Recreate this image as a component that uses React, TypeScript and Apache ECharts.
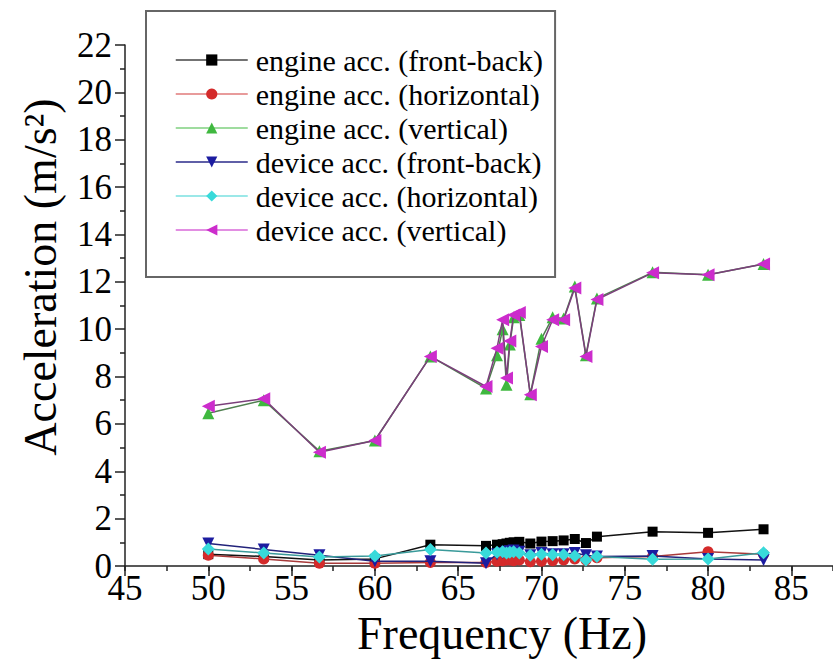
import React, { useEffect, useRef } from 'react';
import * as echarts from 'echarts';

// Frequency sweep (Hz)
const frequency = [50, 53.33, 56.67, 60, 63.33, 66.67, 67.33, 67.67, 67.9, 68.1, 68.33, 68.67, 69.33, 70, 70.67, 71.33, 72, 72.67, 73.33, 76.67, 80, 83.33];

// Accelerations (m/s^2)
const engineFrontBack = [0.5, 0.4, 0.25, 0.3, 0.9, 0.85, 0.9, 0.92, 0.95, 0.98, 1.0, 1.02, 0.95, 1.03, 1.05, 1.08, 1.14, 0.97, 1.24, 1.45, 1.4, 1.55];
const engineHorizontal = [0.45, 0.3, 0.12, 0.12, 0.15, 0.15, 0.2, 0.22, 0.25, 0.25, 0.22, 0.25, 0.18, 0.2, 0.22, 0.25, 0.3, 0.25, 0.35, 0.4, 0.6, 0.5];
const engineVertical = [6.45, 7.0, 4.85, 5.3, 8.85, 7.5, 8.9, 10.0, 7.65, 9.35, 10.5, 10.6, 7.25, 9.6, 10.5, 10.45, 11.8, 8.9, 11.3, 12.4, 12.3, 12.75];
const deviceFrontBack = [0.95, 0.7, 0.45, 0.2, 0.2, 0.12, 0.5, 0.55, 0.6, 0.62, 0.65, 0.6, 0.45, 0.55, 0.5, 0.5, 0.55, 0.45, 0.4, 0.42, 0.3, 0.25];
const deviceHorizontal = [0.72, 0.55, 0.38, 0.42, 0.7, 0.55, 0.58, 0.6, 0.55, 0.58, 0.6, 0.55, 0.45, 0.5, 0.48, 0.48, 0.42, 0.25, 0.4, 0.28, 0.3, 0.56];
const deviceVertical = [6.75, 7.06, 4.8, 5.3, 8.85, 7.58, 9.2, 10.4, 7.94, 9.5, 10.6, 10.7, 7.23, 9.27, 10.4, 10.4, 11.74, 8.85, 11.25, 12.38, 12.3, 12.75];

const seriesNames = [
  'engine acc. (front-back)',
  'engine acc. (horizontal)',
  'engine acc. (vertical)',
  'device acc. (front-back)',
  'device acc. (horizontal)',
  'device acc. (vertical)',
];

const xTitle = 'Frequency (Hz)';
const yTitle = 'Acceleration (m/s²)';

export default function App() {
  const ref = useRef<HTMLDivElement>(null);
  useEffect(() => {
    if (!ref.current) return;
    const chart = echarts.init(ref.current, null, { renderer: 'svg' });
    const font = 'Times New Roman';
    const valuesList = [engineFrontBack, engineHorizontal, engineVertical, deviceFrontBack, deviceHorizontal, deviceVertical];
    const symbols = ['rect', 'circle', 'triangle', 'triangle', 'diamond', 'triangle'];
    const rotates = [0, 0, 0, 180, 0, 90];
    const sizes = [10, 11, 12, 12, 13, 13];
    const colors = ['#000000', '#d42a2a', '#3fb83f', '#1c1ca0', '#38dada', '#cc2ccc'];
    const lineColors = ['#111111', '#a83a3a', '#4f7f4f', '#22227a', '#3a9a9a', '#7b3f7b'];
    const legendLineColors = ['#444444', '#e07a7a', '#7fd07f', '#2a2a8a', '#7ae0e0', '#d868d8'];

    const series = seriesNames.map((name, k) => ({
      name,
      type: 'line',
      data: frequency.map((f, i) => [f, valuesList[k][i]]),
      symbol: symbols[k],
      symbolRotate: rotates[k],
      symbolSize: sizes[k],
      itemStyle: { color: colors[k] },
      lineStyle: { color: lineColors[k], width: 1.5 },
      emphasis: { disabled: true },
      z: 2 + k,
    }));

    chart.setOption({
      animation: false,
      backgroundColor: '#ffffff',
      textStyle: { fontFamily: font },
      grid: { left: 125, right: -3, top: 45, bottom: 96, containLabel: false },
      xAxis: [
        {
          type: 'value',
          min: 45,
          max: 87.5,
          interval: 5,
          axisLine: { show: true, onZero: false, lineStyle: { color: '#222', width: 1.5 } },
          axisTick: { show: true, length: 10, lineStyle: { color: '#222', width: 1.5 } },
          axisLabel: { showMaxLabel: false, color: '#000', fontFamily: font, fontSize: 35, lineHeight: 22, margin: 11 },
          splitLine: { show: false },
        },
        {
          type: 'value',
          min: 45,
          max: 87.5,
          interval: 2.5,
          position: 'bottom',
          axisLine: { show: false },
          axisTick: { show: true, length: 5, lineStyle: { color: '#222', width: 1.5 } },
          axisLabel: { show: false },
          splitLine: { show: false },
        },
      ],
      yAxis: {
        type: 'value',
        min: 0,
        max: 22,
        interval: 2,
        axisLine: { show: true, lineStyle: { color: '#222', width: 1.5 } },
        axisTick: { show: true, length: 10, lineStyle: { color: '#222', width: 1.5 } },
        minorTick: { show: true, splitNumber: 2, length: 5, lineStyle: { color: '#222', width: 1.5 } },
        axisLabel: { color: '#000', fontFamily: font, fontSize: 35, lineHeight: 20, margin: 13 },
        splitLine: { show: false },
        minorSplitLine: { show: false },
      },
      legend: {
        orient: 'vertical',
        left: 146,
        top: 11,
        padding: [32, 12, 30, 29],
        itemGap: 0,
        itemWidth: 72,
        itemHeight: 14,
        backgroundColor: '#ffffff',
        borderColor: '#666666',
        borderWidth: 2,
        textStyle: { color: '#000', fontFamily: font, fontSize: 30, lineHeight: 34, padding: [0, 0, 0, 3] },
        data: seriesNames.map((name, k) => ({ name, lineStyle: { color: legendLineColors[k], width: 1.5 } })),
        z: 10,
      },
      graphic: [
        {
          type: 'text',
          x: 502,
          y: 633,
          style: { text: xTitle, fontFamily: font, fontSize: 46, fill: '#000', textAlign: 'center', textVerticalAlign: 'middle' },
        },
        {
          type: 'text',
          x: 40,
          y: 277,
          rotation: Math.PI / 2,
          style: { text: yTitle, fontFamily: font, fontSize: 46, fill: '#000', textAlign: 'center', textVerticalAlign: 'middle' },
        },
      ],
      series,
    });
    return () => chart.dispose();
  }, []);
  return <div ref={ref} style={{ position: 'absolute', left: 0, top: 0, width: 833, height: 662 }} />;
}
